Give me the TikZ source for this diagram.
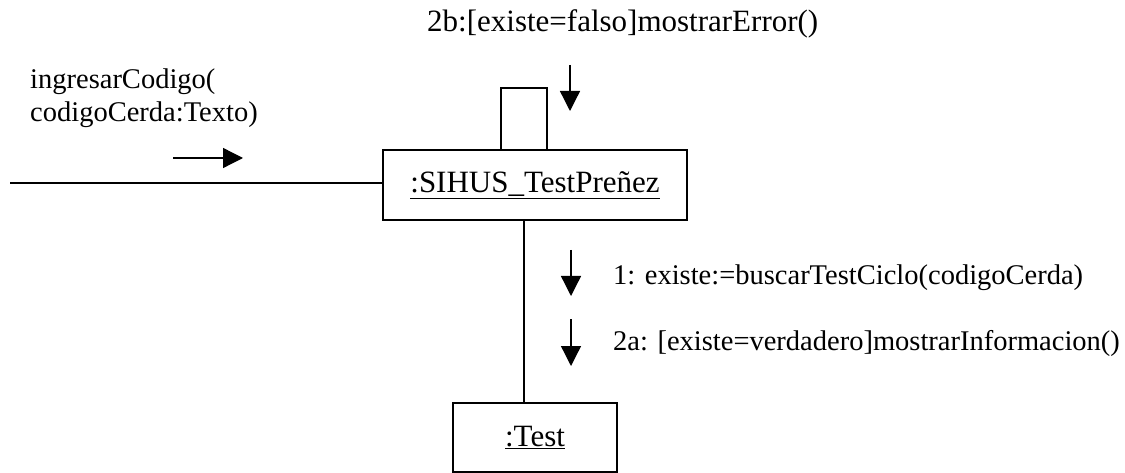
\documentclass[tikz,border=0pt]{standalone}
\usepackage{fontspec}
\setmainfont{Liberation Serif}
\usetikzlibrary{arrows.meta}

\begin{document}
\begin{tikzpicture}[x=1pt, y=-1pt, >={Triangle[length=20pt,width=20pt]},
  objbox/.style={draw, line width=1.6pt, inner sep=0pt, font=\fontsize{31}{36}\selectfont},
  msg/.style={inner sep=0pt, font=\fontsize{28.5}{33}\selectfont},
  link/.style={line width=1.6pt},
  flow/.style={line width=1.3pt, ->}]
  \useasboundingbox (0,0) rectangle (1125,473);

  \node[objbox, minimum width=304pt, minimum height=70pt] (sihus) at (535,185) {\underline{:SIHUS\_TestPreñez}};
  \node[objbox, minimum width=164pt, minimum height=69pt] (test) at (535,437.5) {\underline{:Test}};

  \coordinate (actor) at (10,183);
  \coordinate (LA) at (501,150);
  \coordinate (LB) at (547,150);
  \coordinate (D) at (524,220);

  \draw[link] (actor) -- (sihus.west |- actor);
  \draw[link] (LA) -- (501,88) -- (547,88) -- (LB);
  \draw[link] (D) -- (D |- test.north);

  \node[msg, anchor=north west, align=left] (ingresar) at (30,69) {ingresarCodigo(\\codigoCerda:Texto)};
  \node[msg, anchor=base west, font=\fontsize{31}{36}\selectfont] (error) at (427,32) {2b:[existe=falso]mostrarError()};
  \node[msg, anchor=base west] (buscar) at (613,285) {1: existe:=buscarTestCiclo(codigoCerda)};
  \node[msg, anchor=base west] (mostrar) at (613,350) {2a: [existe=verdadero]mostrarInformacion()};

  \draw[flow] (173,158) -- (243,158);
  \draw[flow] (570,65) -- (570,111);
  \draw[flow] (571,250) -- (571,296);
  \draw[flow] (571,319) -- (571,366);
\end{tikzpicture}
\end{document}
